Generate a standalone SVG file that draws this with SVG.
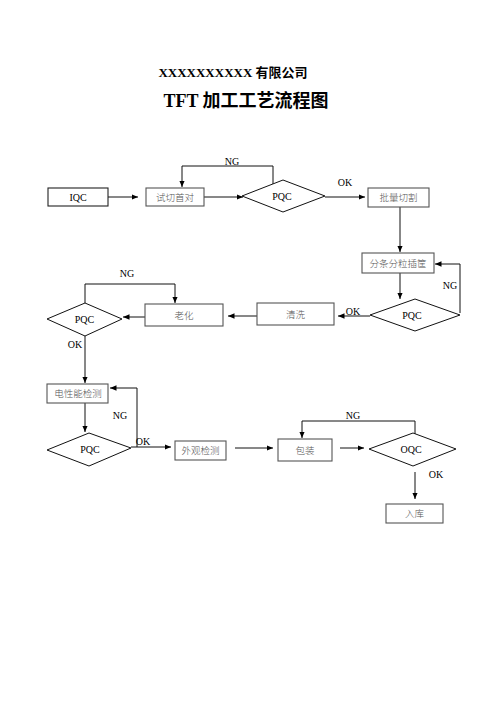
<svg xmlns="http://www.w3.org/2000/svg" width="496" height="702" viewBox="0 0 496 702">
<style>
.bx{fill:#fff;stroke:#555;stroke-width:1.1}
.bk{fill:#fff;stroke:#222;stroke-width:1.1}
.dm{fill:#fff;stroke:#111;stroke-width:1}
.ln{fill:none;stroke:#111;stroke-width:1}
.zh{font-family:"Liberation Serif","Noto Sans CJK SC",serif;font-size:9.5px;font-weight:300;fill:#555;text-anchor:middle}
.en{font-family:"Liberation Serif","Noto Sans CJK SC",serif;font-size:10px;fill:#000;text-anchor:middle}
.t1{font-family:"Liberation Serif","Noto Sans CJK SC",serif;font-weight:bold;fill:#000;text-anchor:middle}
</style>
<defs>
<marker id="ah" markerUnits="userSpaceOnUse" markerWidth="8" markerHeight="7" refX="6.5" refY="2.75" orient="auto">
<path d="M0,0 L6.5,2.75 L0,5.5 z" fill="#000"/>
</marker>
</defs>
<rect width="496" height="702" fill="#fff"/>
<text class="t1" x="233" y="77" font-size="13">XXXXXXXXXX 有限公司</text>
<text class="t1" x="246" y="107" font-size="18">TFT 加工工艺流程图</text>

<g id="connectors">
<line class="ln" x1="108" y1="197" x2="138" y2="197" marker-end="url(#ah)"/>
<line class="ln" x1="204" y1="197" x2="243" y2="197" marker-end="url(#ah)"/>
<polyline class="ln" points="273,184 273,166 182,166 182,187" marker-end="url(#ah)"/>
<line class="ln" x1="325" y1="197" x2="365" y2="197" marker-end="url(#ah)"/>
<line class="ln" x1="400" y1="207" x2="400" y2="252" marker-end="url(#ah)"/>
<line class="ln" x1="400" y1="273" x2="400" y2="299" marker-end="url(#ah)"/>
<polyline class="ln" points="460,313 460,264 435,264" marker-end="url(#ah)"/>
<line class="ln" x1="370" y1="316" x2="338" y2="316" marker-end="url(#ah)"/>
<line class="ln" x1="257" y1="316" x2="228" y2="316" marker-end="url(#ah)"/>
<line class="ln" x1="145" y1="317" x2="123" y2="317" marker-end="url(#ah)"/>
<polyline class="ln" points="85,303 85,284 175,284 175,303" marker-end="url(#ah)"/>
<line class="ln" x1="85" y1="336" x2="85" y2="383" marker-end="url(#ah)"/>
<line class="ln" x1="85" y1="403" x2="85" y2="432" marker-end="url(#ah)"/>
<polyline class="ln" points="137,447 137,388 110,388" marker-end="url(#ah)"/>
<line class="ln" x1="131" y1="447" x2="171" y2="447" marker-end="url(#ah)"/>
<line class="ln" x1="235" y1="448" x2="273" y2="448" marker-end="url(#ah)"/>
<line class="ln" x1="340" y1="448" x2="364" y2="448" marker-end="url(#ah)"/>
<polyline class="ln" points="415,434 415,421 302,421 302,438" marker-end="url(#ah)"/>
<line class="ln" x1="415" y1="472" x2="415" y2="499" marker-end="url(#ah)"/>
<text class="en" x="232" y="165">NG</text>
<text class="en" x="345" y="186">OK</text>
<text class="en" x="450" y="289">NG</text>
<text class="en" x="353" y="315">OK</text>
<text class="en" x="127" y="277">NG</text>
<text class="en" x="75" y="348">OK</text>
<text class="en" x="120" y="419">NG</text>
<text class="en" x="143" y="445">OK</text>
<text class="en" x="353" y="419">NG</text>
<text class="en" x="436" y="478">OK</text>
</g>

<g id="iqc"><rect class="bk" x="48" y="188" width="60" height="18"/><text class="en" x="78" y="200.5">IQC</text></g>
<g id="shiqie"><rect class="bx" x="146" y="188" width="58" height="18"/><text class="zh" x="175" y="200.5">试切首对</text></g>
<g id="pqc1"><polygon class="dm" points="242,196 283,180 325,196 283,212"/><text class="en" x="282" y="199.5">PQC</text></g>
<g id="piliang"><rect class="bx" x="368" y="188" width="61" height="19"/><text class="zh" x="398.5" y="201">批量切割</text></g>
<g id="fentiao"><rect class="bx" x="362" y="253" width="72" height="20"/><text class="zh" x="398" y="266.5">分条分粒插筐</text></g>
<g id="pqc2"><polygon class="dm" points="370,315 415,299 460,315 415,331"/><text class="en" x="412" y="318.5">PQC</text></g>
<g id="qingxi"><rect class="bx" x="257" y="303" width="77" height="22"/><text class="zh" x="295.5" y="317.5">清洗</text></g>
<g id="laohua"><rect class="bx" x="145" y="304" width="78" height="22"/><text class="zh" x="184" y="318.5">老化</text></g>
<g id="pqc3"><polygon class="dm" points="47,319 85,303 122,319 85,336"/><text class="en" x="84.5" y="323">PQC</text></g>
<g id="dianxing"><rect class="bx" x="47" y="384" width="61" height="19"/><text class="zh" x="78" y="397">电性能检测</text></g>
<g id="pqc4"><polygon class="dm" points="47,450 89,433 131,448 89,466"/><text class="en" x="90" y="453">PQC</text></g>
<g id="waiguan"><rect class="bx" x="175" y="441" width="51" height="19"/><text class="zh" x="200.5" y="454">外观检测</text></g>
<g id="baozhuang"><rect class="bx" x="278" y="439" width="54" height="22"/><text class="zh" x="305" y="453.5">包装</text></g>
<g id="oqc"><polygon class="dm" points="369,449 413,433 456,449 413,466"/><text class="en" x="411" y="453">OQC</text></g>
<g id="ruku"><rect class="bx" x="386" y="504" width="57" height="19"/><text class="zh" x="414.5" y="517">入库</text></g>
</svg>
